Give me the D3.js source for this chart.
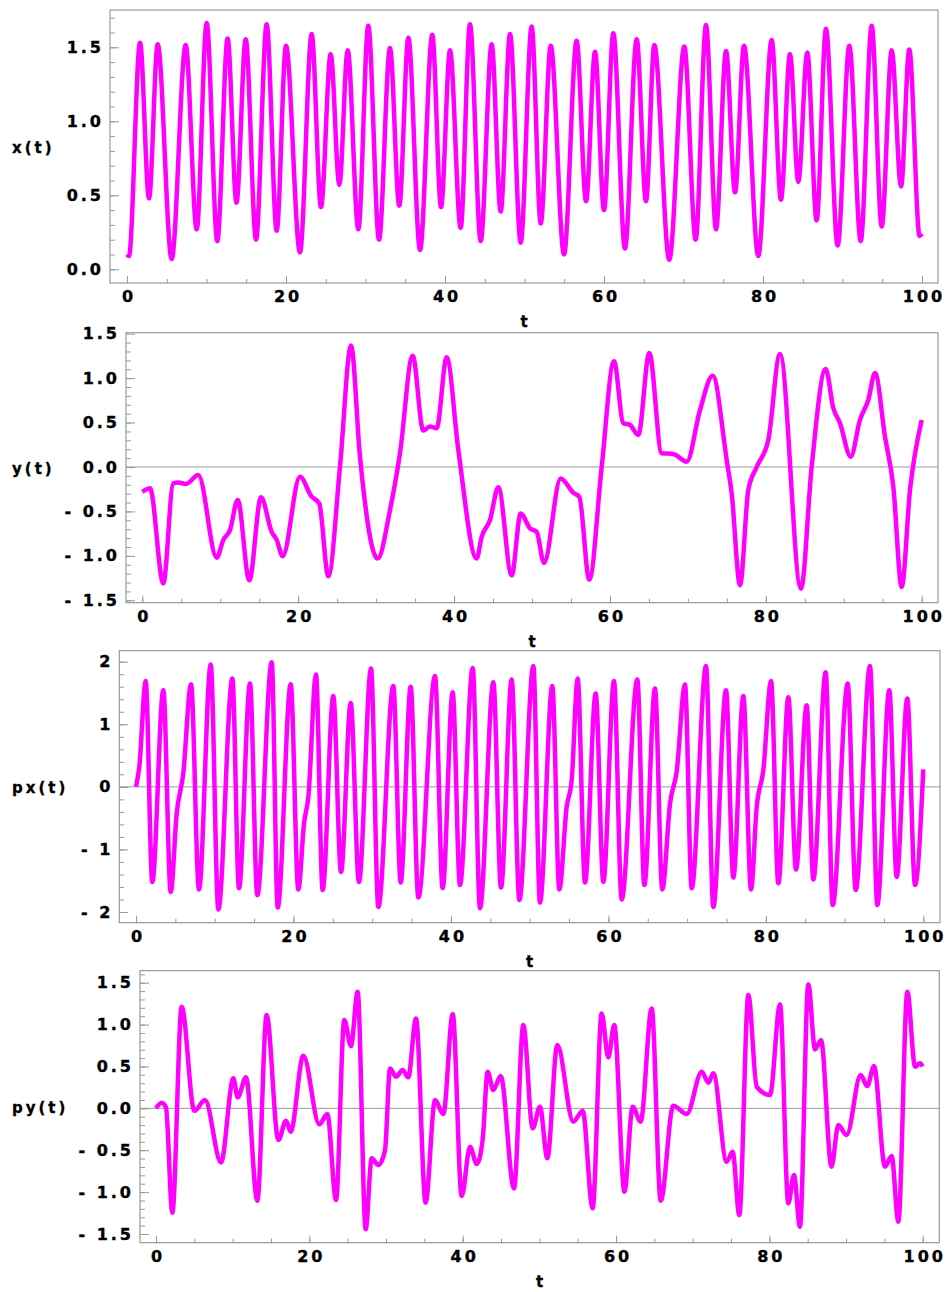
<!DOCTYPE html>
<html>
<head>
<meta charset="utf-8">
<script src="https://cdn.jsdelivr.net/npm/d3@7"></script>
<style>
  body { margin: 0; background: #fff; }
  svg { display: block; }
  .tk text { font-family: "DejaVu Sans", sans-serif; font-weight: bold; font-size: 16px; letter-spacing: 3px; fill: #000; stroke: #000; stroke-width: 0.35px; }
  .tk line { stroke: #999; stroke-width: 1; }
  .lab { font-family: "DejaVu Sans", sans-serif; font-weight: bold; letter-spacing: 3px; fill: #000; stroke: #000; stroke-width: 0.3px; }
</style>
</head>
<body>
<svg id="chart" width="948" height="1292"></svg>
<script>
// time ticks shared by every panel
var tMajor = [0, 20, 40, 60, 80, 100];
var tMinor = d3.range(0, 101, 5);

// x(t): extrema and turning points
var xT = [0, 0.25, 1.64, 2.77, 3.86, 5.62, 7.38, 8.77, 10.02, 11.36, 12.66, 13.77, 14.93, 16.23, 17.57, 18.83, 20.0, 21.76, 23.23, 24.4, 25.62, 26.71, 27.76, 29.1, 30.35, 31.7, 33.08, 34.25, 35.39, 36.86, 38.4, 39.5, 40.63, 41.97, 43.14, 44.49, 45.87, 47.0, 48.18, 49.52, 50.9, 52.04, 53.3, 54.97, 56.56, 57.74, 58.87, 60.0, 61.17, 62.64, 64.11, 65.28, 66.33, 68.21, 70.1, 71.53, 72.83, 74.09, 75.35, 76.48, 77.61, 79.41, 81.09, 82.26, 83.4, 84.44, 85.57, 86.75, 87.92, 89.39, 90.86, 92.29, 93.67, 94.93, 96.19, 97.36, 98.4, 99.7, 100];
var xV = [0.1, 0.09, 1.53, 0.48, 1.52, 0.07, 1.515, 0.27, 1.665, 0.19, 1.56, 0.45, 1.555, 0.2, 1.655, 0.26, 1.51, 0.115, 1.59, 0.42, 1.455, 0.57, 1.48, 0.27, 1.645, 0.2, 1.495, 0.43, 1.565, 0.13, 1.585, 0.42, 1.48, 0.28, 1.655, 0.19, 1.52, 0.39, 1.59, 0.18, 1.64, 0.31, 1.51, 0.1, 1.545, 0.46, 1.47, 0.4, 1.595, 0.14, 1.555, 0.46, 1.515, 0.065, 1.505, 0.2, 1.65, 0.27, 1.475, 0.52, 1.51, 0.09, 1.55, 0.47, 1.455, 0.59, 1.465, 0.33, 1.625, 0.16, 1.51, 0.19, 1.645, 0.29, 1.48, 0.56, 1.485, 0.225, 0.24];

// y(t)
var yT = [0, 0.99, 2.69, 3.98, 4.6, 5.6, 7.19, 9.55, 10.4, 11.25, 12.24, 13.73, 15.23, 16.6, 17.24, 18.01, 20.23, 21.7, 22.7, 23.87, 25.36, 26.78, 27.93, 30.2, 31.78, 33.06, 34.69, 36.05, 36.9, 37.77, 39.05, 40.55, 42.9, 43.54, 44.6, 45.68, 47.39, 48.55, 49.74, 50.6, 51.54, 53.68, 55.3, 56.07, 57.35, 58.94, 60.52, 61.72, 62.57, 63.64, 65.05, 66.64, 68.13, 69.85, 71.56, 73.18, 74.98, 75.62, 76.69, 77.75, 78.83, 80.32, 81.82, 84.51, 85.88, 87.68, 88.66, 89.52, 90.89, 92.08, 93.15, 94.01, 95.29, 96.36, 97.43, 98.5, 100];
var yV = [-0.28, -0.24, -1.31, -0.184, -0.175, -0.19, -0.09, -1.02, -0.82, -0.71, -0.37, -1.275, -0.34, -0.73, -0.82, -1.005, -0.11, -0.33, -0.41, -1.23, 0.0, 1.366, 0.116, -1.03, -0.485, 0.154, 1.253, 0.41, 0.455, 0.437, 1.234, 0.19, -1.03, -0.786, -0.6, -0.229, -1.219, -0.523, -0.69, -0.73, -1.08, -0.128, -0.29, -0.335, -1.268, 0.0, 1.19, 0.493, 0.474, 0.361, 1.283, 0.155, 0.147, 0.06, 0.643, 1.027, 0.079, -0.297, -1.33, -0.26, 0.0, 0.305, 1.272, -1.369, 0.0, 1.103, 0.662, 0.493, 0.116, 0.53, 0.756, 1.058, 0.342, -0.222, -1.351, -0.26, 0.53];

// px(t)
var pxT = [0, 0.42, 1.23, 2.07, 3.47, 4.41, 5.17, 6.0, 6.99, 8.0, 9.49, 10.46, 12.24, 13.08, 14.48, 15.41, 17.24, 18.0, 19.65, 20.62, 21.34, 21.89, 22.86, 23.71, 25.06, 26.04, 27.27, 28.32, 29.85, 30.78, 32.68, 33.62, 34.89, 35.86, 37.98, 38.95, 40.22, 41.15, 42.77, 43.69, 45.39, 46.36, 47.72, 48.69, 50.47, 51.31, 52.88, 53.77, 54.7, 55.34, 56.1, 57.03, 58.39, 59.36, 60.71, 61.69, 63.68, 64.57, 65.92, 66.85, 67.83, 68.67, 69.73, 70.58, 72.4, 73.33, 74.94, 75.87, 77.14, 78.12, 78.84, 79.68, 80.66, 81.59, 82.86, 83.83, 85.19, 86.03, 87.6, 88.49, 90.4, 91.41, 93.23, 94.16, 95.68, 96.62, 97.97, 98.95, 100];
var pxV = [0, 0.32, 1.69, -1.52, 1.545, -1.68, -0.425, 0.21, 1.64, -1.64, 1.955, -1.96, 1.73, -1.62, 1.65, -1.73, 1.99, -1.93, 1.64, -1.64, -0.585, -0.16, 1.795, -1.65, 1.45, -1.36, 1.34, -1.52, 1.89, -1.92, 1.61, -1.53, 1.6, -1.77, 1.77, -1.62, 1.51, -1.57, 1.9, -1.94, 1.67, -1.61, 1.715, -1.81, 1.93, -1.85, 1.61, -1.64, -0.32, 0.107, 1.73, -1.53, 1.49, -1.52, 1.69, -1.8, 1.715, -1.57, 1.57, -1.64, -0.265, 0.24, 1.635, -1.62, 1.93, -1.92, 1.545, -1.45, 1.45, -1.64, -0.32, 0.267, 1.69, -1.54, 1.43, -1.32, 1.305, -1.48, 1.83, -1.89, 1.65, -1.65, 1.93, -1.89, 1.545, -1.44, 1.41, -1.57, 0.28];

// py(t)
var pyT = [0, 0.74, 1.3, 2.13, 3.35, 5.0, 6.39, 8.48, 10.09, 10.65, 11.74, 13.22, 14.43, 15.96, 16.96, 17.56, 19.22, 21.3, 22.35, 23.48, 24.56, 25.43, 26.3, 27.35, 28.13, 29.0, 29.87, 30.52, 31.3, 32.17, 32.9, 33.91, 35.17, 36.39, 37.48, 38.7, 39.87, 40.96, 41.83, 42.6, 43.26, 43.99, 44.96, 46.69, 47.91, 49.13, 50.08, 51.04, 52.34, 54.43, 55.65, 56.95, 58.13, 58.99, 59.77, 61.1, 62.17, 63.21, 64.65, 65.83, 67.47, 69.22, 71.18, 72.05, 72.69, 74.43, 75.21, 76.08, 77.26, 78.35, 80.08, 81.39, 82.47, 83.21, 83.99, 85.08, 85.96, 86.74, 88.1, 88.99, 90.08, 91.91, 92.77, 93.65, 95.08, 95.95, 96.82, 98.0, 99.0, 99.65, 100];
var pyV = [0, 0.067, 0.01, -1.246, 1.212, -0.028, 0.099, -0.645, 0.358, 0.131, 0.37, -1.103, 1.113, -0.378, -0.148, -0.279, 0.628, -0.19, -0.068, -1.094, 1.054, 0.743, 1.392, -1.444, -0.597, -0.677, -0.5, 0.477, 0.377, 0.457, 0.37, 1.074, -1.126, 0.099, -0.068, 1.125, -1.047, -0.458, -0.665, -0.378, 0.437, 0.218, 0.385, -0.955, 0.994, -0.239, 0.02, -0.597, 0.755, -0.16, -0.028, -1.193, 1.133, 0.608, 0.994, -0.995, 0.02, -0.16, 1.193, -1.103, 0.032, -0.068, 0.437, 0.306, 0.418, -0.637, -0.518, -1.273, 1.352, 0.258, 0.159, 1.241, -1.134, -0.796, -1.413, 1.48, 0.704, 0.815, -0.697, -0.2, -0.318, 0.397, 0.266, 0.505, -0.697, -0.569, -1.353, 1.392, 0.497, 0.537, 0.5];

var panels = [
  { name: "x(t)", t: xT, v: xV, box: [110, 10, 938, 283], xr: [127, 922],
    yd: [0, 1.5], yr: [269.3, 47.3], yMajor: [0, 0.5, 1, 1.5], yLab: ["0.0", "0.5", "1.0", "1.5"],
    yMinor: d3.range(0, 1.75, 0.1), zero: false },
  { name: "y(t)", t: yT, v: yV, box: [126, 332.7, 938, 602.7], xr: [142.3, 921.7],
    yd: [-1.5, 1.5], yr: [600.3, 333.7], yMajor: [-1.5, -1, -0.5, 0, 0.5, 1, 1.5], yLab: ["- 1.5", "- 1.0", "- 0.5", "0.0", "0.5", "1.0", "1.5"],
    yMinor: d3.range(-1.5, 1.55, 0.1), zero: true },
  { name: "px(t)", t: pxT, v: pxV, box: [119.3, 650.7, 940, 922.7], xr: [136, 923.3],
    yd: [-2, 2], yr: [912, 661.7], yMajor: [-2, -1, 0, 1, 2], yLab: ["- 2", "- 1", "0", "1", "2"],
    yMinor: d3.range(-2, 2.1, 0.2), zero: true },
  { name: "py(t)", t: pyT, v: pyV, box: [140, 970.7, 939.3, 1242.7], xr: [156, 922.7],
    yd: [-1.5, 1.5], yr: [1234, 982.7], yMajor: [-1.5, -1, -0.5, 0, 0.5, 1, 1.5], yLab: ["- 1.5", "- 1.0", "- 0.5", "0.0", "0.5", "1.0", "1.5"],
    yMinor: d3.range(-1.5, 1.65, 0.1), zero: true }
];

var svg = d3.select("#chart");

panels.forEach(function(p) {
  var l = p.box[0], top = p.box[1], r = p.box[2], b = p.box[3];
  var x = d3.scaleLinear().domain([0, 100]).range(p.xr);
  var y = d3.scaleLinear().domain(p.yd).range(p.yr);
  var g = svg.append("g");

  // zero line
  if (p.zero) {
    g.append("line")
      .attr("x1", l).attr("x2", r)
      .attr("y1", y(0)).attr("y2", y(0))
      .attr("stroke", "#999").attr("stroke-width", 1);
  }

  // minor ticks (no labels)
  var minor = p.yMinor.filter(function(d) { return y(d) > top + 1 && y(d) < b - 1; });
  g.append("g").attr("class", "tk").attr("transform", "translate(" + l + ",0)")
    .call(d3.axisLeft(y).tickValues(minor).tickSize(-5).tickFormat(""))
    .call(function(s) { s.select(".domain").remove(); });
  g.append("g").attr("class", "tk").attr("transform", "translate(0," + b + ")")
    .call(d3.axisBottom(x).tickValues(tMinor).tickSize(-4).tickFormat(""))
    .call(function(s) { s.select(".domain").remove(); });

  // major ticks with labels
  g.append("g").attr("class", "tk").attr("transform", "translate(" + l + ",0)")
    .call(d3.axisLeft(y).tickValues(p.yMajor).tickSize(-9).tickPadding(6)
      .tickFormat(function(d, i) { return p.yLab[i]; }))
    .call(function(s) { s.select(".domain").remove(); });
  g.append("g").attr("class", "tk").attr("transform", "translate(0," + b + ")")
    .call(d3.axisBottom(x).tickValues(tMajor).tickSize(-7).tickPadding(8).tickFormat(d3.format("d")))
    .call(function(s) { s.select(".domain").remove(); s.selectAll("text").attr("dx", 1.5); });

  // frame
  g.append("rect")
    .attr("x", l).attr("y", top)
    .attr("width", r - l).attr("height", b - top)
    .attr("fill", "none").attr("stroke", "#999").attr("stroke-width", 1.2);

  // curve
  var line = d3.line()
    .x(function(d, i) { return x(p.t[i]); })
    .y(function(d) { return y(d); })
    .curve(d3.curveMonotoneX);
  g.append("path")
    .datum(p.v)
    .attr("d", line)
    .attr("fill", "none")
    .attr("stroke", "#ff00ff")
    .attr("stroke-width", 4.5)
    .attr("stroke-linejoin", "round");

  // axis labels
  g.append("text").attr("class", "lab")
    .attr("x", 12).attr("y", (top + b) / 2 + 6)
    .attr("font-size", 15)
    .text(p.name);
  g.append("text").attr("class", "lab")
    .attr("x", (l + r) / 2 + 1.5).attr("y", b + 44)
    .attr("text-anchor", "middle")
    .attr("font-size", 15)
    .text("t");
});
</script>
</body>
</html>
